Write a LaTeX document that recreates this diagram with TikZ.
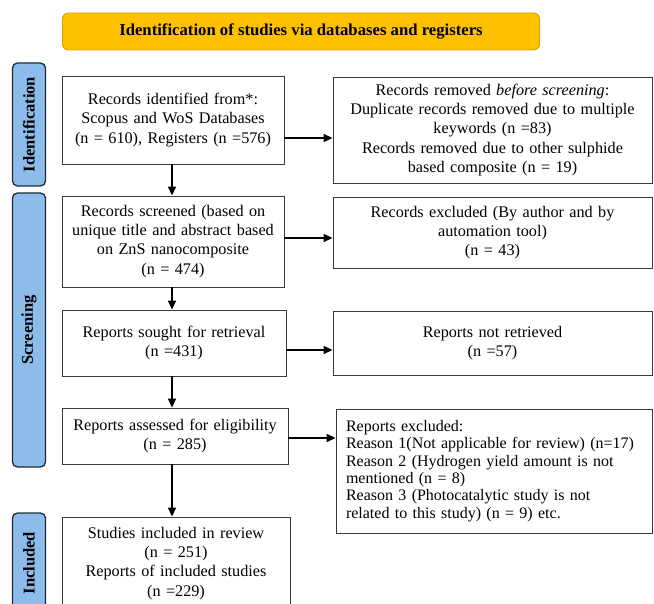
\documentclass[tikz,border=0pt]{standalone}
\usepackage{fontspec}
\setmainfont{Liberation Serif}
\usetikzlibrary{arrows.meta,calc}
\definecolor{gold}{HTML}{FFC000}
\definecolor{goldline}{HTML}{D9A000}
\definecolor{phase}{HTML}{8DBBEA}
\definecolor{phaseline}{HTML}{1E2A38}
\definecolor{boxline}{HTML}{3A3A3A}
\begin{document}
\begin{tikzpicture}[x=1pt,y=-1pt,
  box/.style={draw=boxline, line width=0.9pt, inner sep=0pt, align=center,
    font=\fontsize{16.2}{19.2}\selectfont},
  arr/.style={-{Triangle[length=9pt,width=8pt]}, line width=1.5pt},
  phasebox/.style={draw=phaseline, fill=phase, rounded corners=5pt, line width=1.3pt,
    rotate=90, inner sep=0pt, minimum height=33pt, font=\fontsize{16.5}{18}\selectfont\bfseries},
  titlebox/.style={draw=goldline, fill=gold, rounded corners=6pt, line width=0.9pt,
    inner sep=0pt, font=\fontsize{16.7}{19}\selectfont\bfseries}
]
\clip (0,0) rectangle (654,604);
\fill[white] (0,0) rectangle (654,604);

\node[titlebox, minimum width=477pt, minimum height=37pt] (title) at (301,31.5)
  {Identification of studies via databases and registers};

\node[phasebox, minimum width=123pt] (pid) at (29,124.5) {Identification};
\node[phasebox, minimum width=274pt] (psc) at (29,330) {Screening};
\node[phasebox, minimum width=100pt] (pin) at (29,563) {Included};

\node[box, minimum width=222pt, minimum height=88pt, text width=218pt] (b1) at (173,120)
  {Records identified from*:\\Scopus and WoS Databases\\(n = 610), Registers (n =576)};
\node[box, minimum width=319pt, minimum height=106pt, text width=312pt] (r1) at (492.5,130)
  {Records removed \textit{before screening}:\\Duplicate records removed due to multiple\\keywords (n =83)\\Records removed due to other sulphide\\based composite (n = 19)};

\node[box, minimum width=222pt, minimum height=91pt, text width=218pt] (b2) at (173,241.5)
  {Records screened (based on\\unique title and abstract based\\on ZnS nanocomposite\\(n = 474)};
\node[box, minimum width=319pt, minimum height=71pt, text width=312pt] (r2) at (492.5,232.5)
  {Records excluded (By author and by\\automation tool)\\(n = 43)};

\node[box, minimum width=224pt, minimum height=66pt, text width=218pt] (b3) at (174,343)
  {Reports sought for retrieval\\(n =431)};
\node[box, minimum width=319pt, minimum height=64pt, text width=312pt] (r3) at (492.5,343)
  {Reports not retrieved\\(n =57)};

\node[box, minimum width=226pt, minimum height=56pt, text width=220pt] (b4) at (175,436)
  {Reports assessed for eligibility\\(n = 285)};
\node[box, minimum width=316pt, minimum height=124pt, text width=296pt, align=left,
  font=\fontsize{16}{17.4}\selectfont] (r4) at (494,471)
  {Reports excluded:\\Reason 1(Not applicable for review) (n=17)\\Reason 2 (Hydrogen yield amount is not\\mentioned (n = 8)\\Reason 3 (Photocatalytic study is not\\related to this study) (n = 9) etc.};

\node[box, minimum width=228pt, minimum height=93pt, text width=220pt] (b5) at (176,563.5)
  {Studies included in review\\(n = 251)\\Reports of included studies\\(n =229)};

\draw[arr] ([yshift=-18pt]b1.east) -- ([yshift=-18pt]b1.east -| r1.west);
\draw[arr] ([yshift=3.5pt]b2.east) -- ([yshift=3.5pt]b2.east -| r2.west);
\draw[arr] ([yshift=-7pt]b3.east) -- ([yshift=-7pt]b3.east -| r3.west);
\draw[arr] ([yshift=-2pt]b4.east) -- ([yshift=-2pt]b4.east -| r4.west);

\draw[arr] ([xshift=-1pt]b1.south) -- ([xshift=-1pt]b1.south |- b2.north);
\draw[arr] ([xshift=-1pt]b2.south) -- ([xshift=-1pt]b2.south |- b3.north);
\draw[arr] ([xshift=-2pt]b3.south) -- ([xshift=-2pt]b3.south |- b4.north);
\draw[arr] ([xshift=-3pt]b4.south) -- ([xshift=-3pt]b4.south |- b5.north);
\end{tikzpicture}
\end{document}
